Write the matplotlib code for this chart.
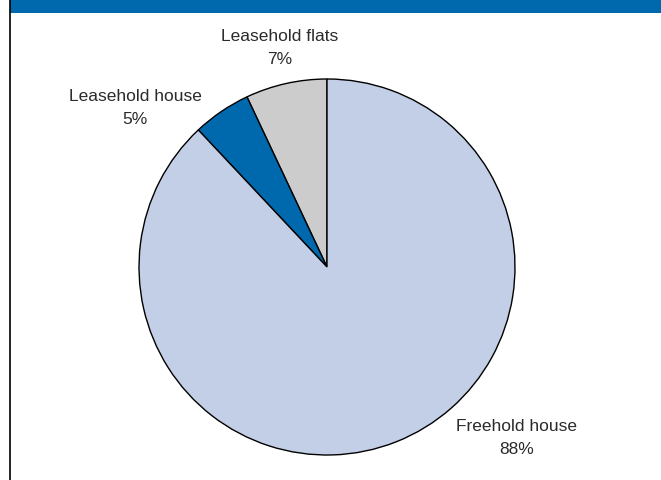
import matplotlib
matplotlib.use("Agg")
import matplotlib.pyplot as plt
from matplotlib.patches import Rectangle
from matplotlib.lines import Line2D

# Tenure shares (percent), drawn counter-clockwise from 12 o'clock
categories = ["Leasehold flats", "Leasehold house", "Freehold house"]
shares = [7, 5, 88]
colors = ["#CCCCCC", "#0068AD", "#C3CFE6"]

W, H = 661, 480
fig = plt.figure(figsize=(W / 100, H / 100), dpi=100)
fig.patch.set_facecolor("white")

# Axes covering the whole figure; one data unit = pie radius in pixels
R = 188.0
cx, cy = 327.0, H - 267.0
ax = fig.add_axes([0, 0, 1, 1])
ax.axis("off")

ax.pie(shares, colors=colors, startangle=90, counterclock=True, radius=1.0,
       wedgeprops=dict(edgecolor="black", linewidth=1.0), frame=False)
ax.set_xlim(-cx / R, (W - cx) / R)
ax.set_ylim(-cy / R, (H - cy) / R)
ax.set_aspect("auto")

# Label positions in pixels (x from left, y from top)
label_px = [(280, 48), (135, 108), (517, 438)]
for name, val, (px, py) in zip(categories, shares, label_px):
    ax.text((px - cx) / R, (H - py - cy) / R, f"{name}\n{val}%",
            ha="center", va="center", fontsize=12.5, color="#2b2b2b",
            family="Liberation Sans", linespacing=1.6)

# Header band and left rule
fig.add_artist(Rectangle((10 / W, 1 - 13 / H), 1 - 10 / W, 13 / H,
                         transform=fig.transFigure, facecolor="#0068AD",
                         edgecolor="none"))
fig.add_artist(Line2D([9.5 / W, 9.5 / W], [0, 1], transform=fig.transFigure,
                      color="black", linewidth=1.2))

fig.savefig("out.png", dpi=100)
